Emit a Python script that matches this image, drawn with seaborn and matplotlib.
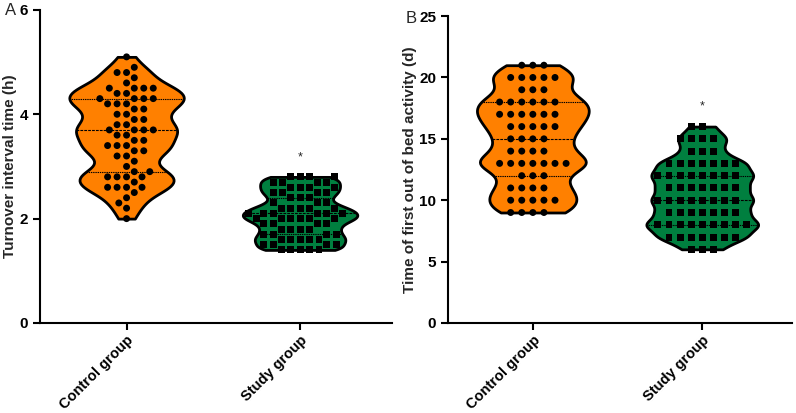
import numpy as np
import pandas as pd
import matplotlib
matplotlib.use('Agg')
import matplotlib.pyplot as plt
import seaborn as sns

groups = ['Control group', 'Study group']
colors = ['#FF8000', '#007F3F']

# panel A: turnover interval time (h), value -> number of patients
a_ctrl_vals = [5.1, 4.9, 4.8, 4.7, 4.6, 4.5, 4.4, 4.3, 4.2, 4.1, 4.0, 3.9, 3.8, 3.7, 3.6,
               3.5, 3.4, 3.3, 3.2, 3.1, 3.0, 2.9, 2.8, 2.7, 2.6, 2.5, 2.4, 2.3, 2.2, 2.0]
a_ctrl_counts = [1, 1, 2, 1, 1, 4, 2, 4, 3, 2, 2, 2, 2, 4, 2,
                 2, 3, 2, 2, 1, 1, 2, 4, 1, 4, 1, 1, 1, 1, 1]
a_study_vals = [2.8, 2.7, 2.6, 2.5, 2.4, 2.3, 2.2, 2.1, 2.0, 1.9, 1.8, 1.7, 1.6, 1.5, 1.4]
a_study_counts = [4, 4, 4, 4, 3, 3, 5, 6, 6, 4, 4, 4, 5, 4, 5]

# panel B: time of first out of bed activity (d)
b_ctrl_vals = [21, 20, 19, 18, 17, 16, 15, 14, 13, 12, 11, 10, 9]
b_ctrl_counts = [3, 5, 3, 6, 6, 5, 4, 4, 7, 3, 4, 5, 4]
b_study_vals = [16, 15, 14, 13, 12, 11, 10, 9, 8, 7, 6]
b_study_counts = [2, 4, 3, 7, 8, 7, 8, 7, 9, 7, 3]


def make_df(cv, cc, sv, sc):
    return pd.DataFrame({
        'group': ['Control group'] * sum(cc) + ['Study group'] * sum(sc),
        'value': np.concatenate([np.repeat(cv, cc), np.repeat(sv, sc)]),
    })


df_a = make_df(a_ctrl_vals, a_ctrl_counts, a_study_vals, a_study_counts)
df_b = make_df(b_ctrl_vals, b_ctrl_counts, b_study_vals, b_study_counts)

sns.set_style('ticks')
plt.rcParams['font.family'] = ['Liberation Sans', 'DejaVu Sans']

fig = plt.figure(figsize=(7.96, 4.13), dpi=100)
ax_a = fig.add_axes([0.050, 0.218, 0.4425, 0.758])
ax_b = fig.add_axes([0.563, 0.218, 0.432, 0.743])


def draw_panel(ax, df, ylim, yticks, ylabel, star_y, bw, gap):
    sns.violinplot(data=df, x='group', y='value', hue='group', order=groups,
                   hue_order=groups, palette=colors, saturation=1, cut=0,
                   bw_adjust=bw, density_norm='width', width=0.66,
                   inner='quart', inner_kws=dict(linewidth=0.8, color='black'),
                   linewidth=2, linecolor='black', legend=False, ax=ax)
    # transparent edge keeps the swarm points spaced apart like the original
    for g, m in zip(groups, ['o', 's']):
        sns.swarmplot(data=df[df['group'] == g], x='group', y='value', order=groups,
                      color='black', marker=m, size=5, edgecolor='none',
                      linewidth=gap, ax=ax)
    ax.text(1, star_y, '*', ha='center', va='center', fontsize=9)
    ax.set_xlim(-0.5, 1.53)
    ax.set_ylim(*ylim)
    ax.set_yticks(yticks)
    ax.set_xlabel('')
    ax.set_ylabel(ylabel, fontsize=11, fontweight='bold', labelpad=2)
    sns.despine(ax=ax)
    for s in ['left', 'bottom']:
        ax.spines[s].set_linewidth(1.5)
        ax.spines[s].set_color('black')
    ax.tick_params(width=1.5, length=5, colors='black', labelsize=11)
    ax.tick_params(axis='x', pad=2)
    for lab in ax.get_yticklabels():
        lab.set_fontweight('bold')
    ax.set_xticks([0, 1])
    ax.set_xticklabels(groups, rotation=45, ha='right', rotation_mode='anchor',
                       fontweight='bold', fontsize=10.5)


draw_panel(ax_a, df_a, (0, 6), [0, 2, 4, 6], 'Turnover interval time (h)', 3.18, 0.45, 1.5)
draw_panel(ax_b, df_b, (0, 25), [0, 5, 10, 15, 20, 25],
           'Time of first out of bed activity (d)', 17.6, 0.45, 2.6)

fig.text(0.006, 0.975, 'A', fontsize=12, va='center')
fig.text(0.509, 0.956, 'B', fontsize=12, va='center')

fig.savefig('out.png', dpi=100)
